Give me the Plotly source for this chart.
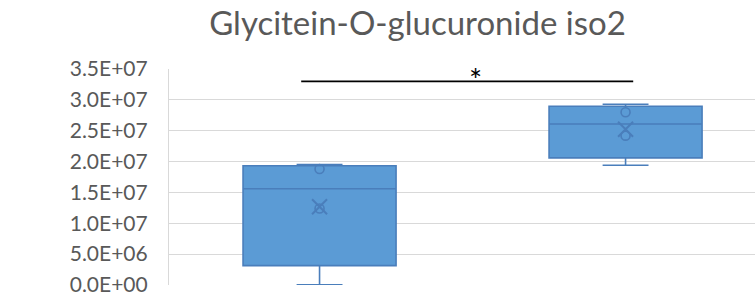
import numpy as np
import plotly.graph_objects as go

# ---- data ----
categories = ["Group 1", "Group 2"]
group1_values = [0.05e6, 12.4e6, 18.8e6, 19.5e6]
group2_values = [19.4e6, 24.2e6, 28.0e6, 29.3e6]
tick_values = [0, 5e6, 1e7, 1.5e7, 2e7, 2.5e7, 3e7, 3.5e7]
tick_labels = ["0.0E+00", "5.0E+06", "1.0E+07", "1.5E+07", "2.0E+07", "2.5E+07", "3.0E+07", "3.5E+07"]
title_text = "Glycitein-O-glucuronide iso2"
sig_label = "*"
sig_y = 3.3e7
sig_x = [-0.06, 1.025]
sig_label_x = 0.51

FILL = "#5B9BD5"
LINE = "#4A7EBB"
FONT = "Lato"
TEXT = "#595959"

fig = go.Figure()
series = [group1_values, group2_values]
for i, vals in enumerate(series):
    arr = np.array(vals)
    q1 = np.percentile(arr, 25, method="weibull")
    med = np.percentile(arr, 50, method="weibull")
    q3 = np.percentile(arr, 75, method="weibull")
    fig.add_trace(go.Box(
        x=[i], q1=[q1], median=[med], q3=[q3],
        lowerfence=[arr.min()], upperfence=[arr.max()],
        width=0.5, whiskerwidth=0.3,
        fillcolor=FILL, line=dict(color=LINE, width=1.6),
        showlegend=False, hoverinfo="skip",
    ))
    inner = arr[(arr > arr.min()) & (arr < arr.max())]
    fig.add_trace(go.Scatter(
        x=[i] * len(inner), y=inner, mode="markers",
        marker=dict(symbol="circle-open", size=9, color=LINE, line=dict(width=1.6)),
        showlegend=False, hoverinfo="skip",
    ))
    fig.add_trace(go.Scatter(
        x=[i], y=[arr.mean()], mode="markers",
        marker=dict(symbol="x-thin-open", size=15, color=LINE, line=dict(width=2, color=LINE)),
        showlegend=False, hoverinfo="skip",
    ))

# significance bar
fig.add_shape(type="line", x0=sig_x[0], x1=sig_x[1], y0=sig_y, y1=sig_y,
              xref="x", yref="y", line=dict(color="black", width=1.6))
fig.add_annotation(x=sig_label_x, y=sig_y, text=sig_label, showarrow=False,
                   xref="x", yref="y", yanchor="bottom", yshift=-19,
                   font=dict(family=FONT, size=31, color="black"))

fig.update_layout(
    width=755, height=304,
    margin=dict(l=169, r=0, t=69, b=19),
    paper_bgcolor="white", plot_bgcolor="white",
    title=dict(text=title_text, x=0.553, xanchor="center", xref="container",
               y=0.923, yanchor="middle", yref="container",
               font=dict(family=FONT, size=33, color=TEXT)),
    xaxis=dict(range=[-0.492, 1.423], showticklabels=False, showgrid=False,
               zeroline=False, showline=False),
    yaxis=dict(range=[0, 3.5e7], tickvals=tick_values, ticktext=tick_labels,
               showgrid=True, gridcolor="#D9D9D9", gridwidth=1.2,
               zeroline=False, showline=True, linecolor="#D9D9D9", linewidth=1.2,
               ticks="", ticklabelstandoff=16,
               tickfont=dict(family=FONT, size=21, color=TEXT)),
)

fig.write_html("out.html", config={"displayModeBar": False},
               post_script="document.body.style.margin='0';document.body.style.overflow='hidden';")
